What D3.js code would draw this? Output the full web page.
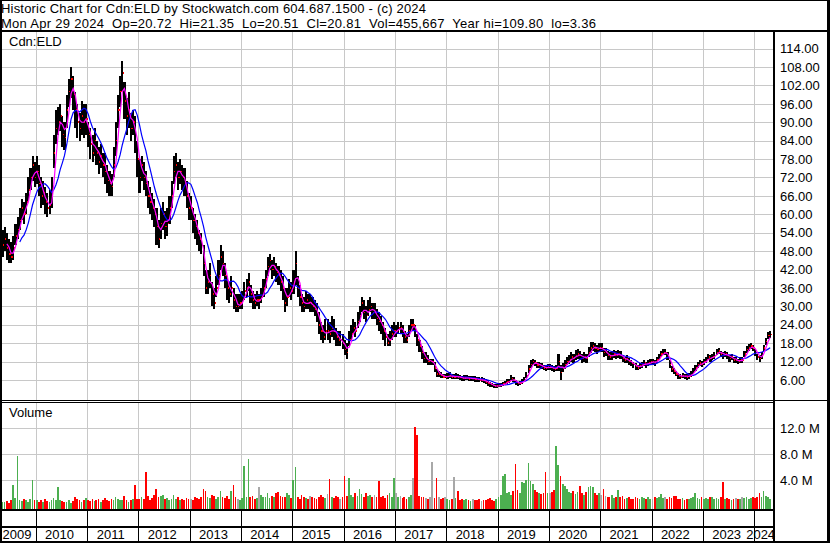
<!DOCTYPE html>
<html><head><meta charset="utf-8">
<script src="https://cdn.jsdelivr.net/npm/d3@7"></script>
<style>
body{margin:0;background:#fff;}
svg text{font-family:"Liberation Sans",Arial,sans-serif;font-size:13px;fill:#000;}
</style></head><body>
<svg id="c" width="830" height="543"></svg>
<script>
// ---- data: semi-monthly bars (1st and 16th of each month), May 2009 .. Apr 2024 ----
const firstMonth = [2009, 4];   // May 2009 (0-based month)
const lastDate = [2024, 3, 29];
const closes = [
 50,52,49,47,46,49,53,55,58,62,60,64,68,72,76,72,
 74,70,66,67,64,62,63,66,80,88,90,92,86,85,94,100,104,99,94,90,88,92,90,91,
 86,83,80,84,80,77,79,76,74,71,70,69,76,84,94,100,106,97,92,94,88,90,86,78,
 72,76,72,70,66,64,62,60,56,52,57,60,56,57,62,66,74,76,72,74,72,70,66,62,
 62,58,56,54,52,50,44,36,38,40,34,31,36,40,46,44,40,36,34,36,32,30,30,31,
 32,35,36,38,34,32,31,32,32,33,36,39,43,45,42,43,41,40,38,36,31,33,36,35,
 38,44,36,33,31,30,32,31,31,30,29,28,24,22,20,22,22,21,23,22,20,19,19,18,
 16,15,19,21,23,22,25,27,31,28,27,29,30,28,28,26,25,24,22,20,18,19,21,22,
 22,23,23,22,20,19,22,24,24,22,19,17,15,13,13,12,12,12,10,8,8,7.5,7,7,
 7.2,7.5,7,7,7.2,7,6.8,6.5,6.6,6.8,6.4,6.5,6.5,6.3,6.2,6,6,5.8,5.4,5,4.6,4.2,3.9,4,
 4.2,4.3,4.6,5,5.4,5.6,6.5,6,5.2,4.8,5,5.5,6,7.5,9.5,11,12,11.5,10.8,11,10.5,10,9.8,10.2,
 10.2,9.8,9.5,10,12,8.5,10,11,12,12.5,13.5,13,14,14.5,14,13,13.5,13,15,16.5,17,16.5,16,16.5,
 16.5,15,15,14,13.5,14,14.5,14,14.5,14,13,12.5,12.8,12,11.5,11,10.5,10,10.5,11,11.5,11,11.5,12,
 12,11.5,12.5,13.5,14.5,15,15,14,11,9.5,9,8,7.2,7,7.5,7.2,7,7.3,7.8,8.8,10,11,11.5,11.2,
 12,12.5,13.5,13,13.5,14,15,15.5,14.5,14,14.5,14,13,13.5,12.5,12.5,12,12.5,12.5,14.5,16,16.5,17,16.5,
 15,13.5,13,14,16.5,18.5,20.5,20.8];
const highs = [
 55,56,54,52,51,53,57,59,62,65,64,67,72,75,79,77,
 79,76,72,71,69,67,68,72,86,94,95,96,92,90,99,104,108,105,100,96,93,97,96,96,
 90,88,86,88,84,82,83,80,80,76,74,73,82,90,99,105,110,103,98,100,93,94,92,84,
 78,79,77,74,71,69,67,65,62,58,62,64,61,62,66,71,79,80,77,78,76,75,71,67,
 66,62,60,58,55,54,50,42,42,44,38,36,40,45,50,48,44,40,38,40,36,34,34,34,
 35,38,39,41,37,35,34,35,34,36,39,42,46,47,45,46,44,43,42,40,36,36,39,38,
 42,48,40,37,34,33,35,34,34,33,32,31,28,25,24,26,26,25,27,26,23,22,22,21,
 19,18,22,24,26,25,28,30,33,32,30,32,33,31,31,29,28,27,25,23,21,22,24,25,
 24,25,25,24,22,21,24,26,26,24,21,19,17,15,15,14,13,13,12,9.5,9,8.5,8,8,
 8.2,8.5,8,8,8.2,8,7.7,7.4,7.5,7.7,7.3,7.4,7.4,7.2,7.1,6.9,6.9,6.7,6.3,6,5.5,5,4.8,4.8,
 4.9,5,5.3,5.8,6.2,6.4,7.5,6.9,6,5.5,5.8,6.4,7,8.7,10.8,12.5,13,12.6,11.8,12,11.5,11,10.8,11.2,
 11.2,10.8,10.5,11,14.5,11,11.5,12.5,13.5,14,15,14.5,15.8,16.2,15.5,14.5,15,14.5,16.8,18.4,18.5,18,17.5,18,
 18,16.5,16.5,15.5,15,15.5,15.8,15.3,15.8,15.3,14.2,13.6,14,13.2,12.6,12,11.6,11,11.6,12,12.6,12,12.6,13,
 13,12.5,13.6,14.6,15.6,16,16,15.2,12.5,10.6,10,9,8.2,7.8,8.4,8.1,7.8,8.2,8.8,9.9,11,12,12.5,12.2,
 13,13.5,14.6,14,14.6,15,16,16.5,15.5,15,15.5,15,14,14.5,13.5,13.4,13,13.4,13.6,15.6,17.2,17.8,17.9,17.5,
 16,14.5,14,15,17.5,19.8,21.8,22];
const lows = [
 46,48,45,44,44,45,50,52,55,58,57,60,64,68,71,69,
 70,66,62,63,60,59,60,62,75,83,86,87,82,81,88,95,98,94,88,85,84,86,85,86,
 82,78,77,79,76,73,75,72,70,67,66,66,72,79,88,95,100,91,86,88,84,86,80,72,
 67,71,68,66,62,60,58,56,50,49,52,55,52,53,57,62,70,72,68,70,68,66,62,58,
 58,54,52,50,48,47,40,34,34,36,30,29,33,37,42,40,36,32,31,33,29,28,28,29,
 29,32,33,35,31,29,29,30,29,31,33,36,40,42,39,40,38,37,35,32,28,30,33,32,
 34,37,33,30,28,28,29,29,28,28,27,25,21,19,18,19,19,18,20,19,17,17,17,16,
 14,13,17,19,21,20,23,25,28,26,25,27,28,26,26,24,22,21,19,17,17,17,19,20,
 20,21,21,20,18,18,20,22,22,20,17,15,13,11.5,11.5,11,11,11,8.5,7,7,6.8,6.5,6.5,
 6.4,6.7,6.2,6.2,6.4,6.2,6,5.7,5.8,6,5.6,5.7,5.7,5.5,5.4,5.2,5.2,5,4.6,4.2,3.8,3.6,3.4,3.4,
 3.6,3.7,4,4.4,4.8,4.9,5.7,5.3,4.5,4.1,4.3,4.8,5.3,6.6,8.4,9.8,10.9,10.5,9.9,10,9.6,9.2,9,9.3,
 9.2,8.8,8.6,9,9,6,8.6,9.6,10.8,11.2,12,11.6,12.5,13,12.5,11.6,12,11.6,13.5,14.8,15.5,15,14.5,15,
 15,13.6,13.8,12.6,12.4,12.6,13.2,12.8,13.2,12.8,12,11.4,11.6,10.9,10.4,10,9.4,9.3,9.6,10,10.4,10,10.5,11,
 11,10.6,11.6,12.6,13.4,14,14,12.6,10,8.5,8,7.2,6.4,6.2,6.6,6.4,6.1,6.4,7,7.9,9,10,10.6,10.3,
 11,11.6,12.6,12,12.6,13,14,14.5,13.5,13,13.5,13,12,12.5,11.6,11.6,11.2,11.6,11.6,13.4,14.8,15.4,16,15.5,
 13.8,12.5,12,13,15.4,17.4,19.4,19.8];
const volumes = [ // millions of shares
 0.7,0.6,0.8,0.5,1.0,3.3,1.3,7.7,1.0,0.8,1.1,0.9,0.7,1.2,4.0,0.9,
 0.9,0.7,1.0,0.6,1.2,0.8,0.7,0.9,1.3,1.0,3.0,0.9,0.8,0.6,0.7,0.9,0.5,0.8,1.4,1.1,0.9,0.7,1.0,1.3,
 1.0,0.8,1.2,0.8,1.0,1.1,0.7,0.9,1.3,1.0,0.8,1.2,1.0,1.4,1.1,0.9,1.0,1.6,0.9,0.7,1.0,1.2,3.3,1.1,
 1.2,1.4,1.2,5.3,1.6,1.0,1.3,1.7,2.7,1.4,1.6,1.7,1.1,1.3,1.0,1.2,1.7,1.1,1.4,1.0,1.2,1.0,1.3,1.1,
 1.2,1.0,1.4,1.3,1.1,1.5,2.7,2.4,1.4,1.3,1.8,1.6,1.2,1.4,2.3,1.5,1.3,1.6,1.2,2.3,3.3,1.4,1.2,1.0,
 1.3,6.2,1.5,7.3,1.4,1.6,1.2,1.3,3.0,1.7,1.5,1.4,2.0,1.3,1.6,1.5,2.0,2.2,1.6,1.4,1.5,2.0,1.7,1.3,
 4.0,6.0,1.5,1.2,1.8,1.4,1.3,1.2,1.6,1.5,1.3,1.2,1.4,1.7,1.5,1.3,1.9,4.2,1.5,1.3,1.6,1.4,1.2,1.5,
 4.7,1.6,4.3,1.8,1.5,2.0,1.6,2.7,1.9,1.5,2.0,1.6,1.8,1.4,1.7,1.5,3.9,1.4,1.6,1.3,1.8,2.0,1.5,4.3,
 2.0,1.5,1.6,1.3,1.4,1.2,1.5,1.8,4.3,12.2,11.0,1.6,1.4,1.5,1.3,1.2,1.4,6.8,1.3,4.3,1.5,1.2,1.3,1.4,
 1.2,1.0,1.1,4.5,1.3,2.4,1.0,1.1,0.9,1.2,1.0,0.8,1.1,0.9,1.0,1.2,0.8,1.0,0.9,1.1,1.3,1.0,0.8,1.2,
 1.5,1.8,4.7,4.9,2.0,2.2,1.8,2.3,6.5,2.5,2.0,3.8,3.6,4.0,6.7,3.9,3.5,2.5,2.2,2.0,1.9,2.1,5.3,2.0,
 2.0,2.2,2.5,9.3,6.4,4.7,3.5,3.2,2.6,2.2,2.0,2.4,1.9,2.2,3.2,2.0,1.8,2.2,3.0,3.1,2.9,2.0,1.8,2.0,
 1.8,2.7,1.6,1.5,1.4,1.7,1.3,1.5,2.5,1.4,1.6,1.2,1.3,1.5,1.2,1.1,1.4,1.3,1.2,1.5,1.3,1.2,1.4,1.1,
 1.2,1.4,1.3,1.5,1.9,1.3,1.4,1.2,1.5,1.3,1.6,1.6,1.2,1.1,1.3,1.0,1.2,1.1,1.3,1.4,2.0,1.3,1.2,1.4,
 1.2,1.3,1.1,1.4,1.5,1.2,1.3,1.1,1.4,3.8,1.2,1.3,1.1,1.0,1.2,1.3,1.1,1.2,1.4,1.3,1.5,1.2,1.3,1.4,
 1.3,1.5,2.0,1.4,2.3,1.6,1.5,1.2];
const priceTicks = [6,12,18,24,30,36,42,48,54,60,66,72,78,84,90,96,102,108,114];
const volumeTicks = [4,8,12];
const yearLabels = ["2009","2010","2011","2012","2013","2014","2015","2016","2017","2018","2019","2020","2021","2022","2023","2024"];
const shortMA = 3, longMA = 9;   // periods (semi-monthly)
const headerLine1 = "Historic Chart for Cdn:ELD by Stockwatch.com 604.687.1500 - (c) 2024";
const headerLine2 = "Mon Apr 29 2024  Op=20.72  Hi=21.35  Lo=20.51  Cl=20.81  Vol=455,667  Year hi=109.80  lo=3.36";

// ---- build ----
const dates = [];
d3.timeMonth.range(new Date(firstMonth[0], firstMonth[1], 1), new Date(lastDate[0], lastDate[1] + 1, 1))
  .forEach(m => { dates.push(m); dates.push(new Date(m.getFullYear(), m.getMonth(), 16)); });
const bars = dates.map((d, i) => ({d, c: closes[i], h: highs[i], l: lows[i], v: volumes[i], i}));
function sma(n){ return bars.map((b,i)=> i < n-1 ? null : {d:b.d, v: d3.mean(closes.slice(i-n+1, i+1))}).filter(Boolean); }

const svg = d3.select("#c");
const L = 2, R = 773, PT = 32, PB = 400, VT = 403, VB = 509;
const endD = new Date(lastDate[0], lastDate[1], lastDate[2]);
const x = d3.scaleTime().domain([new Date(firstMonth[0], firstMonth[1], 1), endD]).range([1.5, 771]);
const y = d3.scaleLinear().domain([0, 114]).range([398.4, 48.6]);
const yv = d3.scaleLinear().domain([0, 12]).range([506.3, 428.3]);
const gridC = "#c8c8c8";
const yearStarts = d3.range(2010, 2025).map(yr => new Date(yr, 0, 1));

// grid
const g = svg.append("g").attr("shape-rendering", "crispEdges");
g.selectAll(".vg").data(yearStarts).join("line")
  .attr("x1", d => Math.round(x(d)) + 0.5).attr("x2", d => Math.round(x(d)) + 0.5)
  .attr("y1", PT).attr("y2", PB).attr("stroke", gridC);
g.selectAll(".vg2").data(yearStarts).join("line")
  .attr("x1", d => Math.round(x(d)) + 0.5).attr("x2", d => Math.round(x(d)) + 0.5)
  .attr("y1", VT).attr("y2", VB).attr("stroke", gridC);
g.selectAll(".hg").data(priceTicks).join("line")
  .attr("x1", L).attr("x2", R).attr("y1", d => Math.round(y(d)) + 0.5).attr("y2", d => Math.round(y(d)) + 0.5)
  .attr("stroke", gridC);
g.selectAll(".vh").data(volumeTicks).join("line")
  .attr("x1", L).attr("x2", R).attr("y1", d => Math.round(yv(d)) + 0.5).attr("y2", d => Math.round(yv(d)) + 0.5)
  .attr("stroke", gridC);

// clip
svg.append("clipPath").attr("id", "pc").append("rect").attr("x", L).attr("y", PT).attr("width", R - L).attr("height", PB - PT);

// volume bars
svg.append("g").attr("shape-rendering", "crispEdges").selectAll("rect").data(bars).join("rect")
  .attr("x", b => x(b.d)).attr("width", 1.7)
  .attr("y", b => yv(b.v)).attr("height", b => VB - yv(b.v))
  .attr("fill", b => b.i === 0 ? "#4caf50" : (b.c > closes[b.i-1] ? "#4caf50" : b.c < closes[b.i-1] ? "#ff0000" : "#a8a8a8"));

// price bars
const pg = svg.append("g").attr("clip-path", "url(#pc)");
pg.append("g").attr("shape-rendering", "crispEdges").selectAll("rect").data(bars).join("rect")
  .attr("x", b => x(b.d)).attr("width", 2.1)
  .attr("y", b => y(b.h)).attr("height", b => Math.max(1, y(b.l) - y(b.h)))
  .attr("fill", "#000");
pg.append("g").attr("shape-rendering", "crispEdges").selectAll("rect").data(bars).join("rect")
  .attr("x", b => x(b.d) + 1.4).attr("width", 1.2)
  .attr("y", b => y(b.c) - 0.8).attr("height", 1.6)
  .attr("fill", "#ff0000");
const line = d3.line().x(p => x(p.d) + 1).y(p => y(p.v));
pg.append("path").datum(sma(longMA)).attr("d", line).attr("fill", "none").attr("stroke", "#0000ff").attr("stroke-width", 1.2);
pg.append("path").datum(sma(shortMA)).attr("d", line).attr("fill", "none").attr("stroke", "#ff00ff").attr("stroke-width", 1.2);

// axes (right)
const ax = svg.append("g").attr("transform", `translate(776,0)`)
  .call(d3.axisRight(y).tickValues(priceTicks).tickSize(0).tickPadding(4).tickFormat(d3.format(".2f")));
ax.select(".domain").remove();
const axv = svg.append("g").attr("transform", `translate(776,0)`)
  .call(d3.axisRight(yv).tickValues(volumeTicks).tickSize(0).tickPadding(4).tickFormat(d => d.toFixed(1) + " M"));
axv.select(".domain").remove();
svg.selectAll(".tick text").attr("fill", "#000").style("font-size", "13px").style("font-family", "'Liberation Sans',Arial,sans-serif");

// frames
const fr = svg.append("g").attr("shape-rendering", "crispEdges").attr("fill", "#000");
fr.append("rect").attr("x", 0).attr("y", 0).attr("width", 830).attr("height", 1);
fr.append("rect").attr("x", 0).attr("y", 0).attr("width", 2).attr("height", 543);
fr.append("rect").attr("x", 827).attr("y", 0).attr("width", 3).attr("height", 543);
fr.append("rect").attr("x", 0).attr("y", 541).attr("width", 830).attr("height", 2);
fr.append("rect").attr("x", 0).attr("y", 30).attr("width", 830).attr("height", 2);
fr.append("rect").attr("x", 773).attr("y", 30).attr("width", 2).attr("height", 513);
fr.append("rect").attr("x", 0).attr("y", 400).attr("width", 830).attr("height", 1);
fr.append("rect").attr("x", 0).attr("y", 402).attr("width", 773).attr("height", 1);
fr.append("rect").attr("x", 0).attr("y", 509).attr("width", 773).attr("height", 2);
fr.append("rect").attr("x", 0).attr("y", 526).attr("width", 773).attr("height", 2);
fr.selectAll(".ys").data(yearStarts).join("rect")
  .attr("x", d => Math.round(x(d))).attr("y", 511).attr("width", 1).attr("height", 30);

// year labels
const cellEdges = [L, ...yearStarts.map(d => x(d)), 771];
svg.append("g").selectAll("text").data(yearLabels).join("text")
  .attr("x", (t, i) => (cellEdges[i] + cellEdges[i+1]) / 2 - 2).attr("y", 539)
  .attr("text-anchor", "middle").text(t => t);

// labels
svg.append("text").attr("x", 9).attr("y", 46).text("Cdn:ELD");
svg.append("text").attr("x", 9).attr("y", 417).text("Volume");
svg.append("text").attr("x", 1).attr("y", 13.3).style("white-space", "pre")
  .attr("textLength", 425).attr("lengthAdjust", "spacing").text(headerLine1);
svg.append("text").attr("x", 1).attr("y", 28.2).style("white-space", "pre")
  .attr("textLength", 595).attr("lengthAdjust", "spacing").text(headerLine2);
</script>
</body></html>
